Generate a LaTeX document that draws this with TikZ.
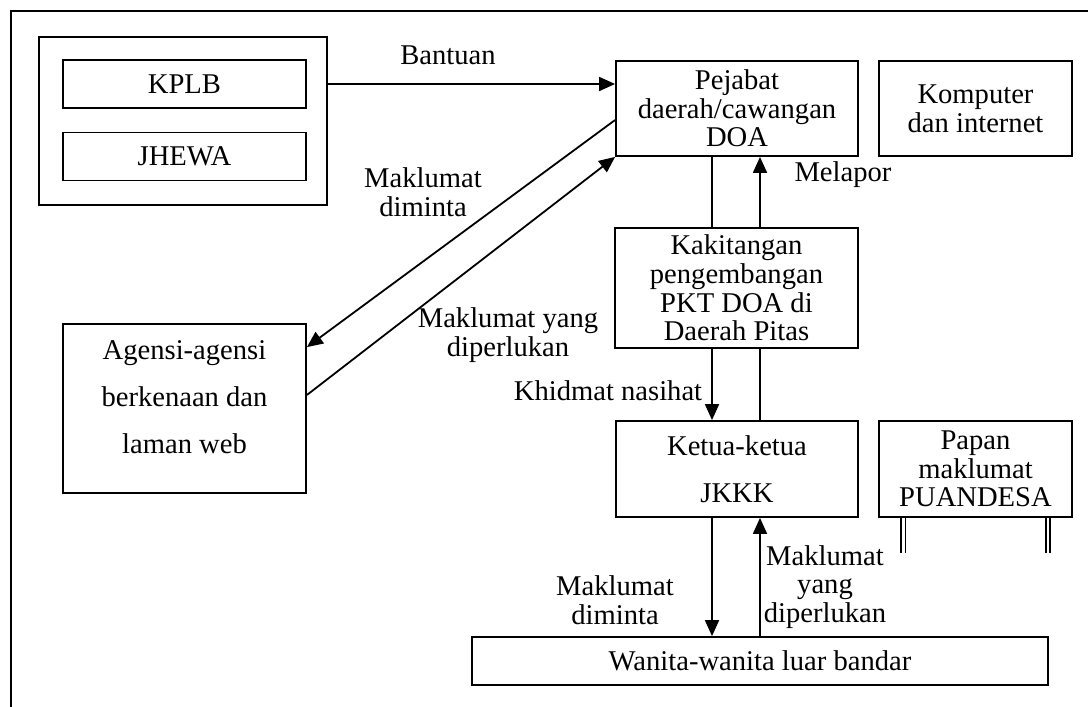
\documentclass[tikz,border=0pt]{standalone}
\usepackage{fontspec}
\setmainfont{Liberation Serif}
\usetikzlibrary{positioning, shapes, arrows.meta}

\begin{document}
\begin{tikzpicture}[x=0.5pt, y=-0.5pt,
  box/.style={draw, line width=0.9pt, inner sep=0pt, align=center,
    font=\fontsize{14.3}{14.3}\selectfont},
  spaced/.style={font=\fontsize{14.3}{23.5}\selectfont},
  lbl/.style={align=center, inner sep=0pt, font=\fontsize{14.3}{14.3}\selectfont},
  arr/.style={line width=0.9pt, -{Triangle[length=8pt,width=7pt]}},
  leg/.style={double, double distance=1.4pt, line width=0.7pt}]
  \useasboundingbox (0,0) rectangle (1088,707);
  % frame
  \draw[line width=0.9pt] (1088,11) -- (11,11) -- (11,707);

  \node[box, minimum width=144pt, minimum height=84pt] (group) at (183,121) {};
  \node[box, minimum width=121.5pt, minimum height=24pt] (kplb) at (184.5,84) {KPLB};
  \node[box, minimum width=121.5pt, minimum height=24pt] (jhewa) at (184.5,156.5) {JHEWA};
  \node[box, minimum width=121pt, minimum height=47.5pt] (pejabat) at (737,108.5) {Pejabat\\daerah/cawangan\\DOA};
  \node[box, minimum width=96.5pt, minimum height=47.5pt] (komputer) at (975.5,108.5) {Komputer\\dan internet};
  \node[box, minimum width=121.5pt, minimum height=60pt] (kakitangan) at (736.5,288) {Kakitangan\\pengembangan\\PKT DOA di\\Daerah Pitas};
  \node[box, spaced, text depth=11pt, minimum width=121.5pt, minimum height=84.5pt] (agensi) at (184.5,408.5) {Agensi-agensi\\berkenaan dan\\laman web};
  \node[box, spaced, minimum width=121pt, minimum height=48pt] (ketua) at (737,469) {Ketua-ketua\\JKKK};
  \node[box, minimum width=96.5pt, minimum height=48pt] (papan) at (975.5,469) {Papan\\maklumat\\PUANDESA};
  \node[box, minimum width=288pt, minimum height=24pt] (wanita) at (760,661) {Wanita-wanita luar bandar};

  % labels
  \node[lbl] (bantuan) at (448,55) {Bantuan};
  \node[lbl] (diminta1) at (423,192) {Maklumat\\diminta};
  \node[lbl] (perlu1) at (508,335) {Maklumat yang\\diperlukan};
  \node[lbl] (melapor) at (843,175) {Melapor};
  \node[lbl] (khidmat) at (608,391) {Khidmat nasihat};
  \node[lbl] (diminta2) at (615,600) {Maklumat\\diminta};
  \node[lbl] (perlu2) at (825,587) {Maklumat\\yang\\diperlukan};

  \coordinate (laneL) at (712,0);
  \coordinate (laneR) at (760,0);

  \draw[arr] (group.east |- kplb.center) -- (pejabat.west |- kplb.center);
  \draw[arr] ([yshift=-5.75pt]pejabat.west) -- ([yshift=-12pt]agensi.north east);
  \draw[arr] ([yshift=6.75pt]agensi.east) -- (pejabat.south west);
  \draw[line width=0.9pt] (laneL |- pejabat.south) -- (laneL |- kakitangan.north);
  \draw[arr] (laneR |- kakitangan.north) -- (laneR |- pejabat.south);
  \draw[arr] (laneL |- kakitangan.south) -- (laneL |- ketua.north);
  \draw[line width=0.9pt] (laneR |- ketua.north) -- (laneR |- kakitangan.south);
  \draw[arr] (laneL |- ketua.south) -- (laneL |- wanita.north);
  \draw[arr] (laneR |- wanita.north) -- (laneR |- ketua.south);

  % legs
  \draw[leg] ([xshift=12.5pt]papan.south west) -- ++(0,35);
  \draw[leg] ([xshift=-12.5pt]papan.south east) -- ++(0,35);
\end{tikzpicture}
\end{document}
